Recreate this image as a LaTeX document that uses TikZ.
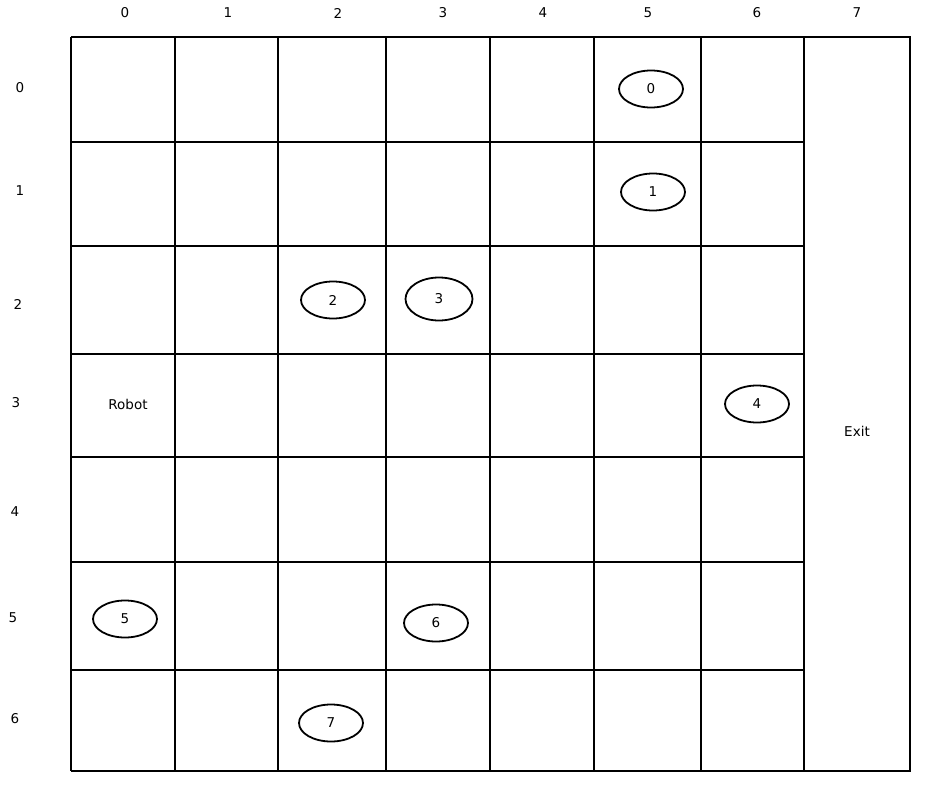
\documentclass[tikz,border=0pt]{standalone}
\usepackage{fontspec}
\setmainfont{DejaVu Sans}
\usetikzlibrary{shapes.geometric}
\begin{document}
\begin{tikzpicture}[x=1pt,y=-1pt]
            \tikzstyle{every node} = [font=\fontsize{13.5}{16}\selectfont, text=black]
            \tikzstyle{gridline} = [line width=1.8pt, black]
            \tikzstyle{obst} = [draw, ellipse, line width=1.8pt, minimum width=64pt, minimum height=37pt, inner sep=0pt]
            \useasboundingbox (0,0) rectangle (936,787);
            % grid
            \foreach \x in {71,175,278,386,490,594,701,804}
                \draw[gridline] (\x,37) -- (\x,771);
            \foreach \y in {142,246,354,457,562,670}
                \draw[gridline] (71,\y) -- (804,\y);
            \draw[gridline] (71,37) -- (910,37) -- (910,771) -- (71,771);
            % column and row numbers
            \foreach \i/\x in {0/125,1/228,2/338,3/443,4/543,5/648,6/757,7/857}
                \node (c\i) at (\x,13) {\i};
            \foreach \i/\x/\y in {0/20/88,1/20/191,2/18/304,3/16/403,4/15/512,5/13/618,6/15/719}
                \node (r\i) at (\x,\y) {\i};
            % obstacles
            \node[obst] (o0) at (651,89) {0};
            \node[obst] (o1) at (653,192) {1};
            \node[obst] (o2) at (333,300) {2};
            \node[obst, minimum width=67pt, minimum height=43pt] (o3) at (439,299) {3};
            \node[obst] (o4) at (757,404) {4};
            \node[obst] (o5) at (125,619) {5};
            \node[obst] (o6) at (436,623) {6};
            \node[obst] (o7) at (331,723) {7};
            \node (robot) at (128,404) {Robot};
            \node (exit) at (857,431) {Exit};
        \end{tikzpicture}
\end{document}
